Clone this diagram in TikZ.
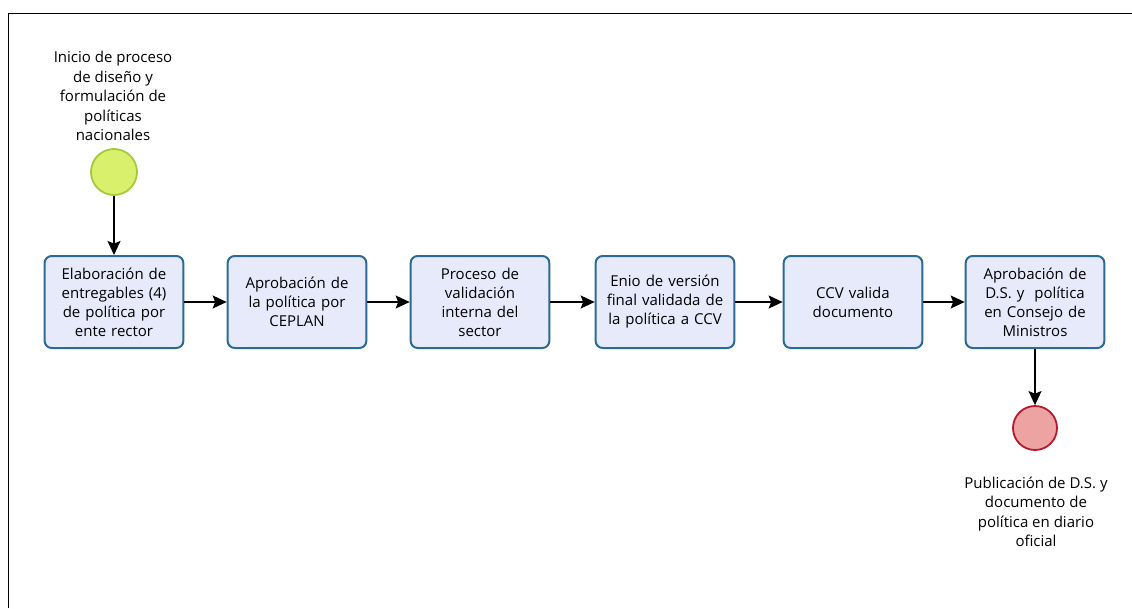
\documentclass[tikz,border=0pt]{standalone}
\usepackage{fontspec}
\setmainfont{Open Sans}
\usetikzlibrary{arrows.meta}
\definecolor{taskline}{HTML}{2A6A94}
\definecolor{taskfill}{HTML}{E6EAFA}
\definecolor{startline}{HTML}{A6C83A}
\definecolor{startfill}{HTML}{D8F06C}
\definecolor{endline}{HTML}{B8182E}
\definecolor{endfill}{HTML}{EEA3A3}
\begin{document}
\begin{tikzpicture}[x=1pt,y=-1pt]
        \useasboundingbox (0,0) rectangle (1132,608);
        \draw[line width=1.6pt] (8.5,608) -- (8.5,13.5) -- (1132,13.5);

        \begin{scope}[every node/.style={draw=taskline, fill=taskfill, line width=2pt,
            rounded corners=7pt, minimum width=138pt, minimum height=92pt,
            text width=132pt, align=center, font=\fontsize{15}{19}\selectfont}]
          \node (1) at (114,302) {Elaboración de\\ entregables (4)\\ de política por\\ ente rector};
          \node (2) at (297,302) {Aprobación de\\ la política por\\ CEPLAN};
          \node (3) at (480,302) {Proceso de\\ validación\\ interna del\\ sector};
          \node (4) at (665,302) {Enio de versión\\ final validada de\\ la política a CCV};
          \node (5) at (853,302) {CCV valida\\ documento};
          \node (6) at (1035,302) {Aprobación de\\ D.S. y~~política\\ en Consejo de\\ Ministros};
        \end{scope}

        \node[circle, draw=startline, fill=startfill, line width=1.8pt, minimum size=46pt] (start) at (114,172) {};
        \node[circle, draw=endline, fill=endfill, line width=1.8pt, minimum size=44pt] (end) at (1035,428) {};

        \begin{scope}[every node/.style={align=center, font=\fontsize{15}{19.5}\selectfont}]
          \node (startlabel) at (113,96) {Inicio de proceso\\ de diseño y\\ formulación de\\ políticas\\ nacionales};
          \node (endlabel) at (1036,512) {Publicación de D.S. y\\ documento de\\ política en diario\\ oficial};
        \end{scope}

        \begin{scope}[every edge/.style={draw, line width=1.5pt, -{Stealth[length=14pt,width=13pt,inset=2.5pt]}}]
          \path (start) edge (1);
          \path (1) edge (2);
          \path (2) edge (3);
          \path (3) edge (4);
          \path (4) edge (5);
          \path (5) edge (6);
          \path (6) edge (end);
        \end{scope}

      \end{tikzpicture}
\end{document}
